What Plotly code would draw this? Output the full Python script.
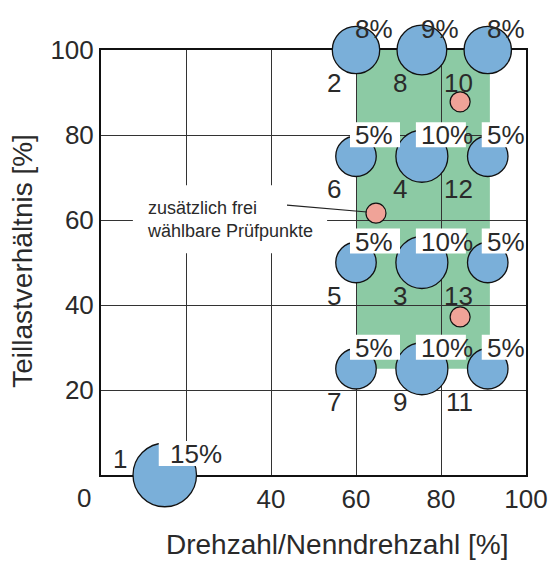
import plotly.graph_objects as go

# ---- data ----
mode_no = [1, 2, 3, 4, 5, 6, 7, 8, 9, 10, 11, 12, 13]
speed = [15, 60, 75.5, 75.5, 60, 60, 60, 75.5, 75.5, 91, 91, 91, 91]
load = [0, 100, 50, 75, 50, 75, 25, 100, 25, 100, 25, 75, 50]
weight = [15, 8, 10, 10, 5, 5, 5, 9, 10, 8, 5, 5, 5]

extra_speed = [84.5, 64.7, 84.5]
extra_load = [87.8, 61.6, 37.2]

x_ticks = [20, 40, 60, 80, 100]
x_ticktext = ["", "40", "60", "80", "100"]
y_ticks = [20, 40, 60, 80, 100]
y_ticktext = ["20", "40", "60", "80", "100"]

area_speed = [60, 91.5]
area_load = [25, 100]

callout_text = "zusätzlich frei<br>wählbare Prüfpunkte"
x_title = "Drehzahl/Nenndrehzahl [%]"
y_title = "Teillastverhältnis [%]"

FONT = "Liberation Sans, Arial, Helvetica, sans-serif"
TXT = "#2a2a2a"
BLUE = "#7AAFD9"
PINK = "#F0A398"
GREEN = "#8CCAA4"

fig = go.Figure()

fig.add_trace(go.Scatter(
    x=speed, y=load, mode="markers", cliponaxis=False, hoverinfo="skip",
    marker=dict(size=[29 + 2.3 * w for w in weight], color=BLUE, opacity=1,
                line=dict(color="#111111", width=1.3)),
    showlegend=False))

fig.add_trace(go.Scatter(
    x=extra_speed, y=extra_load, mode="markers", cliponaxis=False, hoverinfo="skip",
    marker=dict(size=20, color=PINK, opacity=1, line=dict(color="#111111", width=1.2)),
    showlegend=False))

shapes = []
# green test area (below gridlines)
shapes.append(dict(type="rect", xref="x", yref="y", x0=area_speed[0], x1=area_speed[1],
                   y0=area_load[0], y1=area_load[1], fillcolor=GREEN,
                   line=dict(width=0), layer="below"))

# white boxes behind percentage labels
for sx, ly in zip(speed, load):
    shapes.append(dict(type="rect", xref="x", yref="y", xsizemode="pixel", ysizemode="pixel",
                       xanchor=sx, yanchor=ly, x0=-6, x1=44, y0=9, y1=34,
                       fillcolor="white", line=dict(width=0), layer="above"))

# callout white box
shapes.append(dict(type="rect", xref="x", yref="y", x0=7.5, x1=53.2, y0=52.2, y1=68.2,
                   fillcolor="white", line=dict(width=0), layer="above"))
# callout line to the free test point
shapes.append(dict(type="line", xref="x", yref="y", xsizemode="pixel", ysizemode="pixel",
                   xanchor=extra_speed[1], yanchor=extra_load[1],
                   x0=-89, y0=8, x1=-9, y1=1.2,
                   line=dict(color="#222222", width=1.2), layer="above"))

annotations = []
for n, sx, ly, w in zip(mode_no, speed, load, weight):
    if n == 1:
        nx, ny, px = -36, 16, 3
    else:
        nx, ny, px = -13, -33, -3
    annotations.append(dict(x=sx, y=ly, xref="x", yref="y", text=str(n), showarrow=False,
                            xanchor="right", yanchor="middle", xshift=nx, yshift=ny,
                            font=dict(size=26, color=TXT, family=FONT)))
    annotations.append(dict(x=sx, y=ly, xref="x", yref="y", text=f"{w}%", showarrow=False,
                            xanchor="left", yanchor="middle", xshift=px, yshift=21,
                            font=dict(size=26, color=TXT, family=FONT)))

annotations.append(dict(x=30.4, y=60.2, xref="x", yref="y", text=callout_text,
                        showarrow=False, align="left", xanchor="center", yanchor="middle",
                        font=dict(size=18, color=TXT, family=FONT)))

# origin label
annotations.append(dict(x=0, y=0, xref="x", yref="y", text="0", showarrow=False,
                        xanchor="center", yanchor="middle", xshift=-17, yshift=-23,
                        font=dict(size=26, color=TXT, family=FONT)))

# axis titles
annotations.append(dict(x=0.555, y=-0.164, xref="paper", yref="paper", text=x_title,
                        showarrow=False, xanchor="center", yanchor="middle",
                        font=dict(size=28, color=TXT, family=FONT)))
annotations.append(dict(x=-0.185, y=0.505, xref="paper", yref="paper", text=y_title,
                        showarrow=False, xanchor="center", yanchor="middle", textangle=-90,
                        font=dict(size=28, color=TXT, family=FONT)))

# page body has an 8px margin: shrink the figure so the plot area lands where the reference has it
fig.update_layout(
    width=552, height=553,
    margin=dict(l=93, r=34, t=42, b=86),
    paper_bgcolor="white", plot_bgcolor="white",
    shapes=shapes, annotations=annotations,
    font=dict(family=FONT, color=TXT),
    xaxis=dict(range=[0, 100], tickvals=x_ticks, ticktext=x_ticktext,
               showgrid=True, gridcolor="#333333", gridwidth=1,
               showline=True, linecolor="#111111", linewidth=2, mirror=True,
               zeroline=False, ticks="", layer="below traces",
               tickfont=dict(size=26, color=TXT, family=FONT)),
    yaxis=dict(range=[0, 100], tickvals=y_ticks, ticktext=y_ticktext,
               showgrid=True, gridcolor="#333333", gridwidth=1,
               showline=True, linecolor="#111111", linewidth=2, mirror=True,
               zeroline=False, ticks="", layer="below traces",
               tickfont=dict(size=26, color=TXT, family=FONT)),
)

fig.write_html("out.html")
